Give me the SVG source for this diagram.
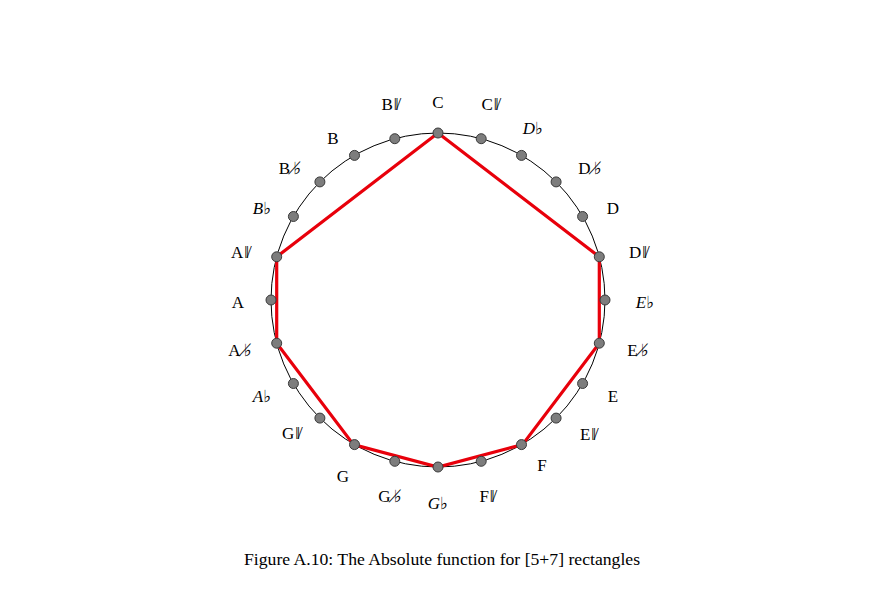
<svg xmlns="http://www.w3.org/2000/svg" width="878" height="610" viewBox="0 0 878 610">
<style>
.lbl{font-family:"Liberation Serif","DejaVu Serif",serif;font-size:17px;fill:#000;text-anchor:middle;dominant-baseline:central}
.it{font-style:italic}
.dot{fill:#7d7d7d;stroke:#3a3a3a;stroke-width:1}
.cap{font-family:"Liberation Serif","DejaVu Serif",serif;font-size:16.5px;fill:#000}
</style>
<rect width="878" height="610" fill="#fff"/>
<g id="connectors">
<circle cx="438" cy="300" r="167" fill="none" stroke="#000" stroke-width="1"/>
<polygon points="438,133 599.3,256.8 599.3,343.2 522.5,444.6 438,467 353.5,444.6 276.7,343.2 276.7,256.8" fill="none" stroke="#e8000b" stroke-width="3.2" stroke-linejoin="miter"/>
</g>
<g id="dots">
<circle class="dot" cx="438" cy="133" r="5"/>
<circle class="dot" cx="481.2" cy="138.7" r="5"/>
<circle class="dot" cx="521.5" cy="155.4" r="5"/>
<circle class="dot" cx="556.1" cy="181.9" r="5"/>
<circle class="dot" cx="582.6" cy="216.5" r="5"/>
<circle class="dot" cx="599.3" cy="256.8" r="5"/>
<circle class="dot" cx="605" cy="300" r="5"/>
<circle class="dot" cx="599.3" cy="343.2" r="5"/>
<circle class="dot" cx="582.6" cy="383.5" r="5"/>
<circle class="dot" cx="556.1" cy="418.1" r="5"/>
<circle class="dot" cx="521.5" cy="444.6" r="5"/>
<circle class="dot" cx="481.2" cy="461.3" r="5"/>
<circle class="dot" cx="438" cy="467" r="5"/>
<circle class="dot" cx="394.8" cy="461.3" r="5"/>
<circle class="dot" cx="354.5" cy="444.6" r="5"/>
<circle class="dot" cx="319.9" cy="418.1" r="5"/>
<circle class="dot" cx="293.4" cy="383.5" r="5"/>
<circle class="dot" cx="276.7" cy="343.2" r="5"/>
<circle class="dot" cx="271" cy="300" r="5"/>
<circle class="dot" cx="276.7" cy="256.8" r="5"/>
<circle class="dot" cx="293.4" cy="216.5" r="5"/>
<circle class="dot" cx="319.9" cy="181.9" r="5"/>
<circle class="dot" cx="354.5" cy="155.4" r="5"/>
<circle class="dot" cx="394.8" cy="138.7" r="5"/>
</g>
<g id="labels">
<text id="n-C" class="lbl" x="438" y="102">C</text>
<text id="n-Chs" class="lbl" x="490" y="104">C<tspan dx="1">ǁ̸</tspan></text>
<text id="n-Db" class="lbl it" x="533" y="128">D♭</text>
<text id="n-Dhf" class="lbl" x="590" y="168">D<tspan dx="3">♭̸</tspan></text>
<text id="n-D" class="lbl" x="613" y="208">D</text>
<text id="n-Dhs" class="lbl" x="638" y="252">D<tspan dx="1">ǁ̸</tspan></text>
<text id="n-Eb" class="lbl it" x="645" y="302">E♭</text>
<text id="n-Ehf" class="lbl" x="638" y="350">E<tspan dx="3">♭̸</tspan></text>
<text id="n-E" class="lbl" x="613" y="396">E</text>
<text id="n-Ehs" class="lbl" x="588" y="434">E<tspan dx="1">ǁ̸</tspan></text>
<text id="n-F" class="lbl" x="542" y="465">F</text>
<text id="n-Fhs" class="lbl" x="487" y="496">F<tspan dx="1">ǁ̸</tspan></text>
<text id="n-Gb" class="lbl it" x="438" y="503">G♭</text>
<text id="n-Ghf" class="lbl" x="390" y="496">G<tspan dx="3">♭̸</tspan></text>
<text id="n-G" class="lbl" x="343" y="476">G</text>
<text id="n-Ghs" class="lbl" x="291" y="433">G<tspan dx="1">ǁ̸</tspan></text>
<text id="n-Ab" class="lbl it" x="262" y="396">A♭</text>
<text id="n-Ahf" class="lbl" x="240" y="350">A<tspan dx="3">♭̸</tspan></text>
<text id="n-A" class="lbl" x="238" y="302">A</text>
<text id="n-Ahs" class="lbl" x="240" y="252">A<tspan dx="1">ǁ̸</tspan></text>
<text id="n-Bb" class="lbl it" x="262" y="208">B♭</text>
<text id="n-Bhf" class="lbl" x="290" y="168">B<tspan dx="3">♭̸</tspan></text>
<text id="n-B" class="lbl" x="333" y="138">B</text>
<text id="n-Bhs" class="lbl" x="390" y="104">B<tspan dx="1">ǁ̸</tspan></text>
</g>
<text class="cap" x="244" y="565" textLength="396" lengthAdjust="spacingAndGlyphs">Figure A.10: The Absolute function for [5+7] rectangles</text>
</svg>
